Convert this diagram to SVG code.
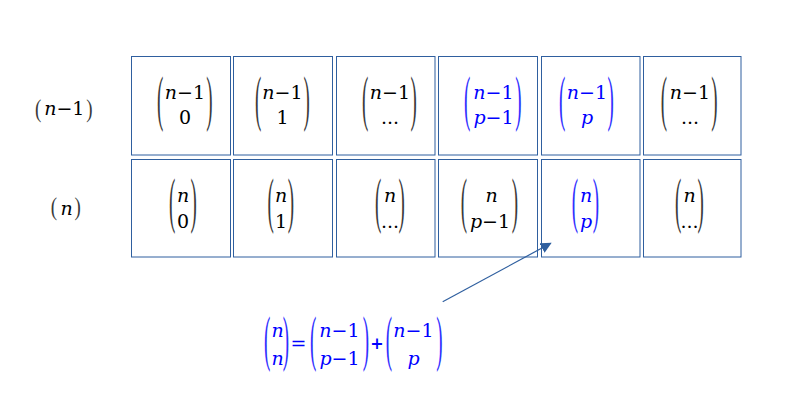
<svg xmlns="http://www.w3.org/2000/svg" width="789" height="405" viewBox="0 0 789 405">
<style>
.box{fill:#fff;stroke:#2F5F9F;stroke-width:1}
.m{font-family:"DejaVu Serif","Liberation Serif",serif;font-size:19px;fill:#000;text-anchor:middle}
.b{fill:#0000FF}
.i{font-style:italic}
.pl{font-family:"Liberation Serif",serif;font-size:19px;text-anchor:start;fill:#3a3a3a}
.pr{font-family:"Liberation Serif",serif;font-size:19px;text-anchor:end;fill:#3a3a3a}
.pl.b,.pr.b{fill:#3030FF}
.conn{stroke:#2F5F9F;stroke-width:1.2;fill:none}
</style>
<defs>
<marker id="ah" viewBox="0 0 10 10" refX="9" refY="5" markerWidth="11" markerHeight="11" markerUnits="userSpaceOnUse" orient="auto">
<path d="M0,0 L10,5 L0,10 z" fill="#2F5F9F"/>
</marker>
</defs>

<g id="label-n-1">
<text class="pl" transform="translate(35.1,116.7) scale(1,1.3)">(</text>
<text class="m" x="64.3" y="115"><tspan class="i">n</tspan>−1</text>
<text class="pr" transform="translate(92.6,116.7) scale(1,1.3)">)</text>
</g>
<g id="label-n">
<text class="pl" transform="translate(50.8,214.7) scale(1,1.3)">(</text>
<text class="m i" x="66.7" y="215">n</text>
<text class="pr" transform="translate(80.9,214.7) scale(1,1.3)">)</text>
</g>

<!-- Row 1 -->
<g id="r1c1">
<rect class="box" x="131.5" y="56.5" width="99" height="98.5"/>
<text class="pl" transform="translate(157.1,119.1) scale(1,3.2)">(</text>
<text class="pr" transform="translate(212.6,119.1) scale(1,3.2)">)</text>
<text class="m" x="185" y="99"><tspan class="i">n</tspan>−1</text>
<text class="m" x="185" y="124">0</text>
</g>
<g id="r1c2">
<rect class="box" x="233.5" y="56.5" width="99" height="98.5"/>
<text class="pl" transform="translate(255.1,119.1) scale(1,3.2)">(</text>
<text class="pr" transform="translate(309.9,119.1) scale(1,3.2)">)</text>
<text class="m" x="282.5" y="99"><tspan class="i">n</tspan>−1</text>
<text class="m" x="282.5" y="124">1</text>
</g>
<g id="r1c3">
<rect class="box" x="336.5" y="56.5" width="98.5" height="98.5"/>
<text class="pl" transform="translate(362.1,119.1) scale(1,3.2)">(</text>
<text class="pr" transform="translate(416.9,119.1) scale(1,3.2)">)</text>
<text class="m" x="390" y="99"><tspan class="i">n</tspan>−1</text>
<text class="m" x="390" y="124">...</text>
</g>
<g id="r1c4">
<rect class="box" x="438.5" y="56.5" width="99" height="98.5"/>
<text class="pl b" transform="translate(464.1,119.1) scale(1,3.2)">(</text>
<text class="pr b" transform="translate(521.6,119.1) scale(1,3.2)">)</text>
<text class="m b" x="493.5" y="99"><tspan class="i">n</tspan>−1</text>
<text class="m b" x="493.5" y="124"><tspan class="i">p</tspan>−1</text>
</g>
<g id="r1c5">
<rect class="box" x="541.5" y="56.5" width="98.5" height="98.5"/>
<text class="pl b" transform="translate(559.1,119.1) scale(1,3.2)">(</text>
<text class="pr b" transform="translate(613.9,119.1) scale(1,3.2)">)</text>
<text class="m b" x="587" y="99"><tspan class="i">n</tspan>−1</text>
<text class="m b i" x="587" y="124">p</text>
</g>
<g id="r1c6">
<rect class="box" x="643.5" y="56.5" width="97.5" height="98.5"/>
<text class="pl" transform="translate(660.8,119.1) scale(1,3.2)">(</text>
<text class="pr" transform="translate(717.6,119.1) scale(1,3.2)">)</text>
<text class="m" x="690" y="99"><tspan class="i">n</tspan>−1</text>
<text class="m" x="690" y="124">...</text>
</g>

<!-- Row 2 -->
<g id="r2c1">
<rect class="box" x="131.5" y="159.5" width="99" height="97.5"/>
<text class="pl" transform="translate(169.1,221.1) scale(1,3.2)">(</text>
<text class="pr" transform="translate(196.9,221.1) scale(1,3.2)">)</text>
<text class="m i" x="183" y="201.7">n</text>
<text class="m" x="183" y="227.7">0</text>
</g>
<g id="r2c2">
<rect class="box" x="233.5" y="159.5" width="99" height="97.5"/>
<text class="pl" transform="translate(267.4,221.1) scale(1,3.2)">(</text>
<text class="pr" transform="translate(294.2,221.1) scale(1,3.2)">)</text>
<text class="m i" x="281" y="201.7">n</text>
<text class="m" x="281" y="227.7">1</text>
</g>
<g id="r2c3">
<rect class="box" x="336.5" y="159.5" width="98.5" height="97.5"/>
<text class="pl" transform="translate(375.1,221.1) scale(1,3.2)">(</text>
<text class="pr" transform="translate(404.9,221.1) scale(1,3.2)">)</text>
<text class="m i" x="390" y="201.7">n</text>
<text class="m" x="390" y="227.7">...</text>
</g>
<g id="r2c4">
<rect class="box" x="438.5" y="159.5" width="99" height="97.5"/>
<text class="pl" transform="translate(460.8,221.1) scale(1,3.2)">(</text>
<text class="pr" transform="translate(518.2,221.1) scale(1,3.2)">)</text>
<text class="m i" x="491.5" y="201.7">n</text>
<text class="m" x="490" y="227.7"><tspan class="i">p</tspan>−1</text>
</g>
<g id="r2c5">
<rect class="box" x="541.5" y="159.5" width="98.5" height="97.5"/>
<text class="pl b" transform="translate(571.8,221.1) scale(1,3.2)">(</text>
<text class="pr b" transform="translate(599.2,221.1) scale(1,3.2)">)</text>
<text class="m b i" x="586" y="201.7">n</text>
<text class="m b i" x="586" y="227.7">p</text>
</g>
<g id="r2c6">
<rect class="box" x="643.5" y="159.5" width="97.5" height="97.5"/>
<text class="pl" transform="translate(675.1,221.1) scale(1,3.2)">(</text>
<text class="pr" transform="translate(703.9,221.1) scale(1,3.2)">)</text>
<text class="m i" x="689.5" y="201.7">n</text>
<text class="m" x="689.5" y="227.7">...</text>
</g>

<!-- Formula -->
<g id="formula">
<text class="pl b" transform="translate(264.1,359.1) scale(1,3.2)">(</text>
<text class="pr b" transform="translate(289.2,359.1) scale(1,3.2)">)</text>
<text class="m b i" x="277.5" y="336.7">n</text>
<text class="m b i" x="277.5" y="365">n</text>
<text class="m b" x="298.5" y="349.5">=</text>
<text class="pl b" transform="translate(310.1,359.1) scale(1,3.2)">(</text>
<text class="pr b" transform="translate(369.2,359.1) scale(1,3.2)">)</text>
<text class="m b" x="339.5" y="336.7"><tspan class="i">n</tspan>−1</text>
<text class="m b" x="339.5" y="365"><tspan class="i">p</tspan>−1</text>
<text class="m b" x="377" y="348.5" style="font-weight:bold;font-size:16px">+</text>
<text class="pl b" transform="translate(385.8,359.1) scale(1,3.2)">(</text>
<text class="pr b" transform="translate(442.6,359.1) scale(1,3.2)">)</text>
<text class="m b" x="413.5" y="336.7"><tspan class="i">n</tspan>−1</text>
<text class="m b i" x="413.5" y="365">p</text>
</g>

<g id="connectors">
<line class="conn" x1="442.7" y1="301.7" x2="550.7" y2="243.3" marker-end="url(#ah)"/>
</g>
</svg>
